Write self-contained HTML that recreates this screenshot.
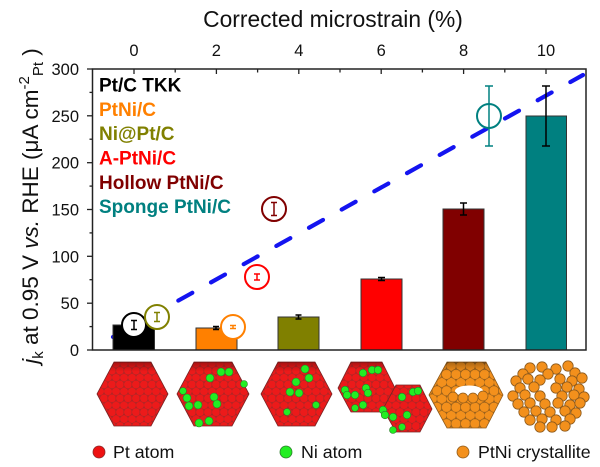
<!DOCTYPE html>
<html><head><meta charset="utf-8"><style>
html,body{margin:0;padding:0;background:#fff;}
svg{display:block;font-family:"Liberation Sans",Arial,sans-serif;}
</style></head><body>
<svg width="600" height="467" viewBox="0 0 600 467" xmlns="http://www.w3.org/2000/svg">
<defs>
<pattern id="pr" patternUnits="userSpaceOnUse" width="8" height="13.856">
<rect width="8" height="13.856" fill="#c01818"/>
<g fill="#ec1a1a" stroke="#9a2a2a" stroke-width="0.5">
<circle cx="4" cy="3.464" r="4.2"/><circle cx="4" cy="17.32" r="4.2"/><circle cx="4" cy="-10.392" r="4.2"/>
<circle cx="0" cy="10.392" r="4.2"/><circle cx="8" cy="10.392" r="4.2"/><circle cx="0" cy="-3.464" r="4.2"/><circle cx="8" cy="-3.464" r="4.2"/>
</g></pattern>
<pattern id="po" patternUnits="userSpaceOnUse" width="9.5" height="16.454">
<rect width="9.5" height="16.454" fill="#c8781c"/>
<g fill="#f3901c" stroke="#8d5a1c" stroke-width="0.6">
<circle cx="4.75" cy="4.113" r="5"/><circle cx="4.75" cy="20.57" r="5"/><circle cx="4.75" cy="-12.34" r="5"/>
<circle cx="0" cy="12.34" r="5"/><circle cx="9.5" cy="12.34" r="5"/><circle cx="0" cy="-4.113" r="5"/><circle cx="9.5" cy="-4.113" r="5"/>
</g></pattern>
<linearGradient id="shade" x1="0" y1="0" x2="0" y2="1">
<stop offset="0" stop-color="#000" stop-opacity="0.3"/><stop offset="0.15" stop-color="#000" stop-opacity="0"/>
</linearGradient>
</defs>

<text x="333" y="27" font-size="22.8" text-anchor="middle" fill="#111">Corrected microstrain (%)</text>

<g font-size="16.5" text-anchor="middle" fill="#111">
<text x="134" y="56">0</text><text x="216.4" y="56">2</text><text x="298.8" y="56">4</text>
<text x="381.2" y="56">6</text><text x="463.6" y="56">8</text><text x="546" y="56">10</text>
</g>
<g font-size="16.5" text-anchor="end" fill="#111">
<text x="79" y="75">300</text><text x="79" y="121.8">250</text><text x="79" y="168.7">200</text>
<text x="79" y="215.5">150</text><text x="79" y="262.3">100</text><text x="79" y="309.2">50</text><text x="79" y="356">0</text>
</g>

<text transform="translate(38,206) rotate(-90)" text-anchor="middle" font-size="22.5" fill="#111"><tspan font-style="italic">j</tspan><tspan font-size="15" dy="5">k</tspan><tspan dy="-5"> at 0.95 V </tspan><tspan font-style="italic">vs.</tspan><tspan> RHE (μA cm</tspan><tspan font-size="15" dy="-9">-2</tspan><tspan font-size="15" dy="14">Pt</tspan><tspan dy="-5"> )</tspan></text>

<line x1="113" y1="337" x2="583" y2="75" stroke="#1414f0" stroke-width="4.2" stroke-dasharray="16 21.4" stroke-linecap="round"/>

<g stroke="#333" stroke-width="1">
<rect x="113" y="325" width="41.5" height="25" fill="#000"/>
<rect x="196" y="328" width="41" height="22" fill="#ff8000"/>
<rect x="278" y="317" width="41" height="33" fill="#808000"/>
<rect x="361" y="279" width="41" height="71" fill="#ff0000"/>
<rect x="443" y="209" width="41" height="141" fill="#800000"/>
<rect x="526" y="116" width="40.5" height="234" fill="#008080"/>
</g>
<g stroke="#000" stroke-width="1.5">
<line x1="216" y1="326.5" x2="216" y2="329.5"/><line x1="213" y1="326.5" x2="219" y2="326.5"/><line x1="213" y1="329.5" x2="219" y2="329.5"/>
<line x1="298.5" y1="315" x2="298.5" y2="319"/><line x1="295.5" y1="315" x2="301.5" y2="315"/><line x1="295.5" y1="319" x2="301.5" y2="319"/>
<line x1="381.5" y1="277.5" x2="381.5" y2="280.5"/><line x1="378" y1="277.5" x2="385" y2="277.5"/><line x1="378" y1="280.5" x2="385" y2="280.5"/>
<line x1="463.5" y1="203" x2="463.5" y2="215"/><line x1="460" y1="203" x2="467" y2="203"/><line x1="460" y1="215" x2="467" y2="215"/>
<line x1="546" y1="86" x2="546" y2="146"/><line x1="542" y1="86" x2="550" y2="86"/><line x1="542" y1="146" x2="550" y2="146"/>
</g>

<rect x="92.5" y="69" width="493.5" height="281" fill="none" stroke="#222" stroke-width="1.5"/>
<g stroke="#222" stroke-width="1.3">
<line x1="87" y1="69" x2="92.5" y2="69"/><line x1="87" y1="115.8" x2="92.5" y2="115.8"/><line x1="87" y1="162.7" x2="92.5" y2="162.7"/>
<line x1="87" y1="209.5" x2="92.5" y2="209.5"/><line x1="87" y1="256.3" x2="92.5" y2="256.3"/><line x1="87" y1="303.2" x2="92.5" y2="303.2"/><line x1="87" y1="350" x2="92.5" y2="350"/>
<line x1="89.5" y1="92.4" x2="92.5" y2="92.4"/><line x1="89.5" y1="139.2" x2="92.5" y2="139.2"/><line x1="89.5" y1="186.1" x2="92.5" y2="186.1"/>
<line x1="89.5" y1="232.9" x2="92.5" y2="232.9"/><line x1="89.5" y1="279.7" x2="92.5" y2="279.7"/><line x1="89.5" y1="326.6" x2="92.5" y2="326.6"/>
<line x1="134" y1="69" x2="134" y2="74"/><line x1="216.4" y1="69" x2="216.4" y2="74"/><line x1="298.8" y1="69" x2="298.8" y2="74"/>
<line x1="381.2" y1="69" x2="381.2" y2="74"/><line x1="463.6" y1="69" x2="463.6" y2="74"/><line x1="546" y1="69" x2="546" y2="74"/>
<line x1="175.2" y1="69" x2="175.2" y2="72.5"/><line x1="257.6" y1="69" x2="257.6" y2="72.5"/><line x1="340" y1="69" x2="340" y2="72.5"/>
<line x1="422.4" y1="69" x2="422.4" y2="72.5"/><line x1="504.8" y1="69" x2="504.8" y2="72.5"/>
</g>

<g font-size="19" font-weight="bold">
<text x="99" y="91.5" fill="#000">Pt/C TKK</text>
<text x="99" y="115.8" fill="#ff8000">PtNi/C</text>
<text x="99" y="140.2" fill="#808000">Ni@Pt/C</text>
<text x="99" y="164.5" fill="#ff0000">A-PtNi/C</text>
<text x="99" y="188.8" fill="#800000">Hollow PtNi/C</text>
<text x="99" y="213.2" fill="#008080">Sponge PtNi/C</text>
</g>

<g fill="#fff" stroke-width="2">
<circle cx="134" cy="325" r="12" stroke="#000"/>
<circle cx="157" cy="317" r="12" stroke="#808000"/>
<circle cx="233" cy="327" r="12" stroke="#ff8000"/>
<circle cx="257" cy="277" r="12" stroke="#ff0000"/>
<circle cx="274" cy="209" r="12" stroke="#800000"/>
<circle cx="489" cy="116" r="12" stroke="#008080"/>
</g>
<g stroke-width="1.5" fill="none">
<path d="M134 320.5V329.5M131 320.5H137M131 329.5H137" stroke="#000"/>
<path d="M157 312.5V321.5M154 312.5H160M154 321.5H160" stroke="#808000"/>
<path d="M233 325.5V328.5M230 325.5H236M230 328.5H236" stroke="#ff8000"/>
<path d="M257 274V280M254 274H260M254 280H260" stroke="#ff0000"/>
<path d="M274 202.5V215.5M271 202.5H277M271 215.5H277" stroke="#800000"/>
<path d="M489 86V146M485 86H493M485 146H493" stroke="#008080"/>
</g>

<g stroke="#7a2424" stroke-width="0.8">
<polygon points="97,394 114,362 151,362 168,394 151,426 114,426" fill="url(#pr)"/>
<polygon points="177,394 194,362 232,362 249,394 232,426 194,426" fill="url(#pr)"/>
<polygon points="261,394 278,362 315,362 332,394 315,426 278,426" fill="url(#pr)"/>
<polygon points="338,388 351,362 382,362 395,388 382,412 351,412" fill="url(#pr)"/>
<polygon points="383,409 396,385 420,385 432,409 420,432 396,432" fill="url(#pr)"/>
</g>
<g stroke="none">
<polygon points="97,394 114,362 151,362 168,394 151,426 114,426" fill="url(#shade)"/>
<polygon points="177,394 194,362 232,362 249,394 232,426 194,426" fill="url(#shade)"/>
<polygon points="261,394 278,362 315,362 332,394 315,426 278,426" fill="url(#shade)"/>
<polygon points="338,388 351,362 382,362 395,388 382,412 351,412" fill="url(#shade)"/>
</g>
<g fill="#22ee22" stroke="#2a7a2a" stroke-width="0.6">
<circle cx="210" cy="378" r="4"/><circle cx="221" cy="372" r="4"/><circle cx="229" cy="372" r="4"/>
<circle cx="187" cy="398" r="4"/><circle cx="189" cy="406" r="4"/><circle cx="198" cy="405" r="4"/>
<circle cx="214" cy="397" r="4"/><circle cx="217" cy="404" r="4"/><circle cx="209" cy="421" r="4"/><circle cx="199" cy="423" r="4"/>
<circle cx="244" cy="384" r="3.5"/><circle cx="183" cy="391" r="3.5"/>
<circle cx="296" cy="382" r="4"/><circle cx="290" cy="392" r="4"/><circle cx="299" cy="393" r="4"/>
<circle cx="309" cy="378" r="4"/><circle cx="305" cy="369" r="4"/><circle cx="287" cy="412" r="3.5"/><circle cx="316" cy="405" r="3.5"/>
<circle cx="363" cy="373" r="3.8"/><circle cx="372" cy="370" r="3.8"/><circle cx="378" cy="370" r="3.8"/>
<circle cx="345" cy="390" r="3.8"/><circle cx="347" cy="395" r="3.8"/><circle cx="355" cy="395" r="3.8"/>
<circle cx="366" cy="388" r="3.8"/><circle cx="368" cy="393" r="3.8"/><circle cx="363" cy="405" r="3.8"/><circle cx="355" cy="408" r="3.5"/>
<circle cx="413" cy="392" r="3.8"/><circle cx="418" cy="391" r="3.8"/><circle cx="402" cy="397" r="3.8"/>
<circle cx="383" cy="410" r="3.8"/><circle cx="385" cy="415" r="3.8"/><circle cx="393" cy="417" r="3.8"/><circle cx="407" cy="415" r="3.8"/>
<circle cx="393" cy="430" r="3.5"/><circle cx="402" cy="427" r="3.5"/>
</g>
<polygon points="429,395 447,362 486,362 503,395 486,428 447,428" fill="url(#po)" stroke="#8d5a1c" stroke-width="0.8"/>
<polygon points="429,395 447,362 486,362 503,395 486,428 447,428" fill="url(#shade)"/>
<ellipse cx="469" cy="391" rx="14" ry="5.5" fill="#fff"/>
<g fill="#f3901c" stroke="#8d5a1c" stroke-width="0.7">
<circle cx="453" cy="397" r="5"/><circle cx="463" cy="398" r="5"/><circle cx="473" cy="398" r="5"/><circle cx="483" cy="396" r="5"/>
</g>
<g fill="#f3901c" stroke="#8d5a1c" stroke-width="0.8">
<circle cx="530" cy="368" r="5.2"/><circle cx="542" cy="367" r="5.2"/><circle cx="556" cy="369" r="5.2"/><circle cx="568" cy="366" r="5.2"/>
<circle cx="523" cy="374" r="5.2"/><circle cx="548" cy="374" r="5.2"/><circle cx="575" cy="373" r="5.2"/>
<circle cx="516" cy="381" r="5.2"/><circle cx="528" cy="379" r="5.2"/><circle cx="540" cy="380" r="5.2"/><circle cx="560" cy="379" r="5.2"/><circle cx="572" cy="381" r="5.2"/><circle cx="582" cy="378" r="5.2"/>
<circle cx="520" cy="388" r="5.2"/><circle cx="534" cy="387" r="5.2"/><circle cx="556" cy="388" r="5.2"/><circle cx="567" cy="387" r="5.2"/><circle cx="579" cy="389" r="5.2"/>
<circle cx="513" cy="396" r="5.2"/><circle cx="525" cy="395" r="5.2"/><circle cx="540" cy="396" r="5.2"/><circle cx="562" cy="396" r="5.2"/><circle cx="574" cy="395" r="5.2"/><circle cx="584" cy="397" r="5.2"/>
<circle cx="518" cy="404" r="5.2"/><circle cx="530" cy="403" r="5.2"/><circle cx="545" cy="404" r="5.2"/><circle cx="558" cy="403" r="5.2"/><circle cx="570" cy="405" r="5.2"/><circle cx="580" cy="403" r="5.2"/>
<circle cx="524" cy="412" r="5.2"/><circle cx="536" cy="411" r="5.2"/><circle cx="550" cy="412" r="5.2"/><circle cx="565" cy="411" r="5.2"/><circle cx="576" cy="413" r="5.2"/>
<circle cx="530" cy="420" r="5.2"/><circle cx="542" cy="419" r="5.2"/><circle cx="556" cy="420" r="5.2"/><circle cx="570" cy="419" r="5.2"/>
<circle cx="540" cy="427" r="5.2"/><circle cx="552" cy="427" r="5.2"/><circle cx="565" cy="426" r="5.2"/>
</g>

<circle cx="99" cy="452" r="6" fill="#ee1111" stroke="#8a2a2a" stroke-width="0.8"/>
<circle cx="286" cy="452" r="6" fill="#22ee22" stroke="#2a7a2a" stroke-width="0.8"/>
<circle cx="463" cy="452" r="6" fill="#f3901c" stroke="#8d5a1c" stroke-width="0.8"/>
<g font-size="17.8" fill="#111">
<text x="113" y="458">Pt atom</text>
<text x="301" y="458">Ni atom</text>
<text x="478" y="458">PtNi crystallite</text>
</g>
</svg>
</body></html>
